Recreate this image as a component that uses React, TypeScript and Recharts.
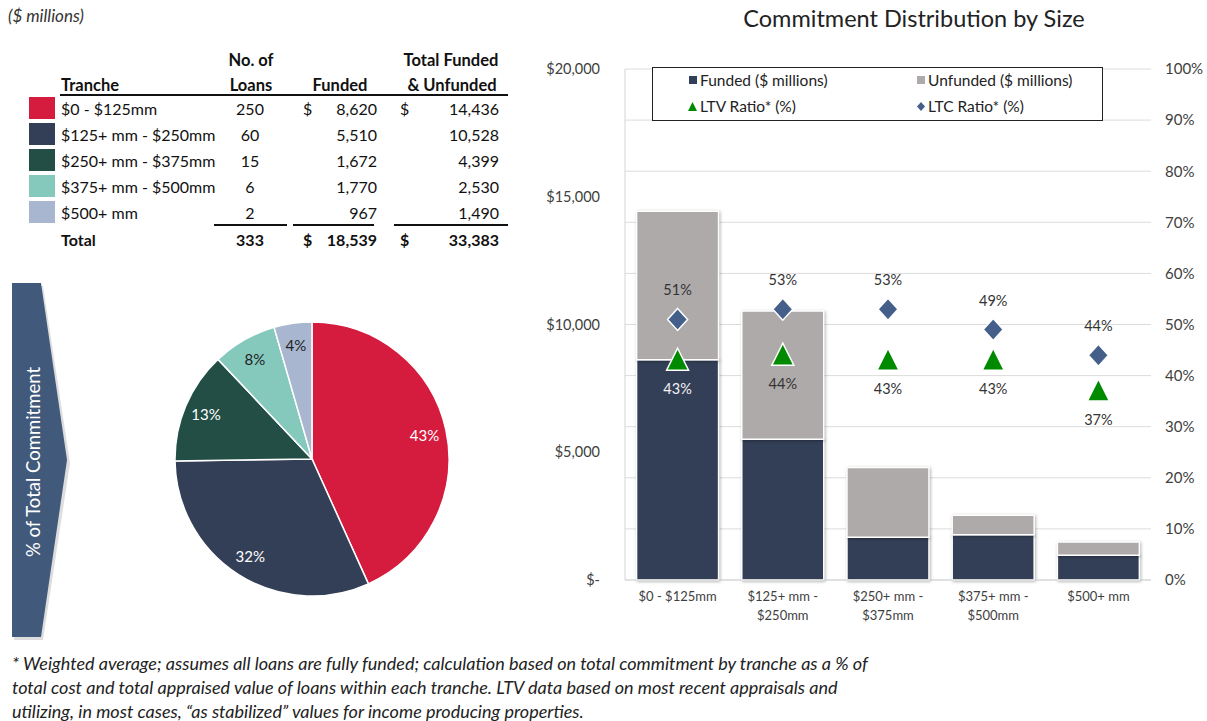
import React from "react";
import {
    ComposedChart,
    Bar,
    Line,
    XAxis,
    YAxis,
    CartesianGrid,
    Legend,
    LabelList,
    PieChart,
    Pie,
    Cell,
} from "recharts";

const FONT = "Lato, 'Open Sans', sans-serif";

// tranche names (table) and the two-line versions used under the bars
const tranches = ["$0 - $125mm", "$125+ mm - $250mm", "$250+ mm - $375mm", "$375+ mm - $500mm", "$500+ mm"];
const axisLabels = ["$0 - $125mm", "$125+ mm -\n$250mm", "$250+ mm -\n$375mm", "$375+ mm -\n$500mm", "$500+ mm"];
const loanCounts = [250, 60, 15, 6, 2];
const fundedAmt = [8620, 5510, 1672, 1770, 967];
const totalAmt = [14436, 10528, 4399, 2530, 1490];
const ltvRatio = [0.43, 0.44, 0.43, 0.43, 0.37];
const ltcRatio = [0.51, 0.53, 0.53, 0.49, 0.44];
const trancheColors = ["#d51b3e", "#333f56", "#234e46", "#85c9bd", "#a8b7cf"];
const pieLabelColors = ["#ffffff", "#ffffff", "#ffffff", "#222222", "#222222"];
const leftTicks = [0, 5000, 10000, 15000, 20000];
const rightTicks = [0, 0.1, 0.2, 0.3, 0.4, 0.5, 0.6, 0.7, 0.8, 0.9, 1];
const footnote = [
    "* Weighted average; assumes all loans are fully funded; calculation based on total commitment by tranche as a % of",
    "total cost and total appraised value of loans within each tranche. LTV data based on most recent appraisals and",
    "utilizing, in most cases, \u201cas stabilized\u201d values for income producing properties.",
];

const FUNDED_COLOR = "#333f56";
const UNFUNDED_COLOR = "#aeaaaa";
const LTV_COLOR = "#008a00";
const LTC_COLOR = "#44608a";

// plot area of the bar chart (chart coordinates), used to pick label colour
const PLOT_TOP = 69;
const PLOT_H = 511;
const LEFT_MAX = 20000;

const chartData = axisLabels.map((name, i) => ({
    name,
    funded: fundedAmt[i],
    unfunded: totalAmt[i] - fundedAmt[i],
    ltv: ltvRatio[i],
    ltc: ltcRatio[i],
}));

const pieData = tranches.map((name, i) => ({ name, value: totalAmt[i] }));

const fmt = (n: number) => n.toLocaleString("en-US");

// absolutely placed text; align sets which edge x refers to
function T({ x, y, children, align = "left", bold, size = 16, italic, color = "#111" }: any) {
    const tx = align === "center" ? "-50%" : align === "right" ? "-100%" : "0";
    return (
        <div
            style={{
                position: "absolute",
                left: x,
                top: y,
                transform: `translate(${tx}, -50%)`,
                whiteSpace: "nowrap",
                fontSize: size,
                fontWeight: bold ? 700 : 400,
                fontStyle: italic ? "italic" : "normal",
                color,
                lineHeight: 1,
            }}
        >
            {children}
        </div>
    );
}

const CategoryTick = ({ x, y, payload }: any) => {
    const lines = String(payload.value).split("\n");
    return (
        <text textAnchor="middle" fontSize={13} fill="#404040" fontFamily={FONT}>
            {lines.map((l, i) => (
                <tspan key={i} x={x} y={y + 21 + i * 19}>
                    {l}
                </tspan>
            ))}
        </text>
    );
};

const Diamond = (props: any) => {
    const { cx, cy, index } = props;
    if (cx == null || cy == null) return <g key={index} />;
    return (
        <path
            key={index}
            d={`M${cx},${cy - 11} L${cx + 10},${cy} L${cx},${cy + 11} L${cx - 10},${cy} Z`}
            fill={LTC_COLOR}
            stroke="#fff"
            strokeWidth={1.5}
        />
    );
};

const Triangle = (props: any) => {
    const { cx, cy, index } = props;
    if (cx == null || cy == null) return <g key={index} />;
    return (
        <path
            key={index}
            d={`M${cx},${cy - 12} L${cx + 11},${cy + 10} L${cx - 11},${cy + 10} Z`}
            fill={LTV_COLOR}
            stroke="#fff"
            strokeWidth={1.5}
        />
    );
};

const pctLabel = (dy: number) => (props: any) => {
    const { x, y, value, index } = props;
    const fundedTop = PLOT_TOP + PLOT_H * (1 - fundedAmt[index] / LEFT_MAX);
    const onDark = y + dy - 5 > fundedTop;
    return (
        <text x={x} y={y + dy} textAnchor="middle" fontSize={14.5} fill={onDark ? "#f2f2f2" : "#333"} fontFamily={FONT}>
            {Math.round(value * 100)}%
        </text>
    );
};

const LegendBox = () => {
    const item = (marker: React.ReactNode, label: string, left: number, top: number) => (
        <div style={{ position: "absolute", left, top, display: "flex", alignItems: "center", fontSize: 15.5, color: "#222" }}>
            <span style={{ width: 11, display: "inline-flex", justifyContent: "center" }}>{marker}</span>
            <span style={{ marginLeft: 2 }}>{label}</span>
        </div>
    );
    const sq = (c: string) => <span style={{ width: 8, height: 8, background: c, display: "inline-block" }} />;
    return (
        <div style={{ position: "relative", width: 451, height: 54, border: "1.5px solid #222", background: "#fff", boxSizing: "border-box", fontFamily: FONT }}>
            {item(sq(FUNDED_COLOR), "Funded ($ millions)", 34, 3)}
            {item(sq(UNFUNDED_COLOR), "Unfunded ($ millions)", 262, 3)}
            {item(
                <svg width={9} height={9}><path d="M4.5,0 L9,9 L0,9 Z" fill={LTV_COLOR} /></svg>,
                "LTV Ratio* (%)", 34, 29)}
            {item(
                <svg width={8} height={9}><path d="M4,0 L8,4.5 L4,9 L0,4.5 Z" fill={LTC_COLOR} /></svg>,
                "LTC Ratio* (%)", 262, 29)}
        </div>
    );
};

const RADIAN = Math.PI / 180;
const pieLabel = (props: any) => {
    const { cx, cy, midAngle, outerRadius, percent, index } = props;
    const r = outerRadius * 0.84;
    const x = cx + r * Math.cos(-midAngle * RADIAN);
    const y = cy + r * Math.sin(-midAngle * RADIAN);
    return (
        <text x={x} y={y} textAnchor="middle" dominantBaseline="central" fontSize={15} fill={pieLabelColors[index]} fontFamily={FONT}>
            {Math.round(percent * 100)}%
        </text>
    );
};

export default function App() {
    const loanTotal = loanCounts.reduce((a, b) => a + b, 0);
    const fundedTotal = fundedAmt.reduce((a, b) => a + b, 0);
    const grandTotal = totalAmt.reduce((a, b) => a + b, 0);
    const rowY = [109, 135, 161, 187, 213];
    const hs = 16.5;

    return (
        <div style={{ position: "absolute", left: 0, top: 0, width: 1207, height: 721, background: "#fff", fontFamily: FONT, overflow: "hidden" }}>
            <style>{`.recharts-bar-rectangle { filter: drop-shadow(1.5px 1.5px 1.5px rgba(0,0,0,0.3)); }`}</style>

            <T x={8} y={15} italic size={17} color="#333">($ millions)</T>

            {/* table */}
            <T x={251} y={60} align="center" bold size={hs}>No. of</T>
            <T x={451} y={60} align="center" bold size={hs}>Total Funded</T>
            <T x={61} y={85} bold size={hs}>Tranche</T>
            <T x={251} y={85} align="center" bold size={hs}>Loans</T>
            <T x={340} y={85} align="center" bold size={hs}>Funded</T>
            <T x={452} y={85} align="center" bold size={hs}>&amp; Unfunded</T>
            <div style={{ position: "absolute", left: 60, top: 94, width: 448, height: 2, background: "#111" }} />
            {tranches.map((t, i) => (
                <React.Fragment key={t}>
                    <div style={{ position: "absolute", left: 29, top: rowY[i] - 12, width: 26, height: 22, background: trancheColors[i] }} />
                    <T x={61} y={rowY[i]}>{t}</T>
                    <T x={250} y={rowY[i]} align="center">{loanCounts[i]}</T>
                    {i === 0 && <T x={303} y={rowY[i]}>$</T>}
                    <T x={377} y={rowY[i]} align="right">{fmt(fundedAmt[i])}</T>
                    {i === 0 && <T x={400} y={rowY[i]}>$</T>}
                    <T x={499} y={rowY[i]} align="right">{fmt(totalAmt[i])}</T>
                </React.Fragment>
            ))}
            <div style={{ position: "absolute", left: 214, top: 224, width: 73, height: 2, background: "#111" }} />
            <div style={{ position: "absolute", left: 293, top: 224, width: 81, height: 2, background: "#111" }} />
            <div style={{ position: "absolute", left: 394, top: 224, width: 114, height: 2, background: "#111" }} />
            <T x={61} y={240} bold>Total</T>
            <T x={250} y={240} align="center" bold>{loanTotal}</T>
            <T x={303} y={240} bold>$</T>
            <T x={377} y={240} align="right" bold>{fmt(fundedTotal)}</T>
            <T x={400} y={240} bold>$</T>
            <T x={499} y={240} align="right" bold>{fmt(grandTotal)}</T>

            {/* banner arrow */}
            <svg style={{ position: "absolute", left: 0, top: 270 }} width={90} height={380}>
                <polygon points="14,16 43,16 70,193 43,370 14,370" fill="#bbb" opacity={0.5} />
                <polygon points="12,13 41,13 67,190 41,367 12,367" fill="#41597a" />
                <text x={0} y={0} transform="translate(33,192) rotate(-90)" textAnchor="middle" dominantBaseline="central" fontSize={18.5} fill="#fff" fontFamily={FONT}>
                    % of Total Commitment
                </text>
            </svg>

            {/* pie */}
            <div style={{ position: "absolute", left: 147, top: 294 }}>
                <PieChart width={320} height={320}>
                    <Pie
                        data={pieData}
                        dataKey="value"
                        cx={160}
                        cy={160}
                        outerRadius={137}
                        startAngle={90}
                        endAngle={-270}
                        stroke="#fff"
                        strokeWidth={1.5}
                        label={pieLabel}
                        labelLine={false}
                        isAnimationActive={false}
                    >
                        {pieData.map((d, i) => (
                            <Cell key={d.name} fill={trancheColors[i]} />
                        ))}
                    </Pie>
                </PieChart>
            </div>

            {/* bar chart */}
            <div style={{ position: "absolute", left: 714, top: 19, width: 400, textAlign: "center", transform: "translateY(-50%)", fontSize: 23.5, color: "#222", lineHeight: 1 }}>
                Commitment Distribution by Size
            </div>
            <div style={{ position: "absolute", left: 540, top: 0 }}>
                <ComposedChart width={667} height={640} data={chartData} margin={{ top: PLOT_TOP, right: 0, bottom: 0, left: 0 }} barCategoryGap="11%">
                    <CartesianGrid yAxisId="right" vertical={false} stroke="#dcdcdc" />
                    <XAxis dataKey="name" height={60} tick={<CategoryTick />} tickLine={false} tickSize={0} tickMargin={0} axisLine={{ stroke: "#d4d4d4" }} interval={0} />
                    <YAxis
                        yAxisId="left"
                        width={85}
                        domain={[0, LEFT_MAX]}
                        ticks={leftTicks}
                        tickFormatter={(v: number) => (v === 0 ? "$-" : "$" + fmt(v))}
                        tick={{ fontSize: 14.5, fill: "#404040", fontFamily: FONT }}
                        tickLine={false}
                        tickSize={0}
                        tickMargin={25}
                        axisLine={{ stroke: "#d4d4d4" }}
                    />
                    <YAxis
                        yAxisId="right"
                        orientation="right"
                        width={56}
                        domain={[0, 1]}
                        ticks={rightTicks}
                        tickFormatter={(v: number) => Math.round(v * 100) + "%"}
                        tick={{ fontSize: 15, fill: "#404040", fontFamily: FONT, textAnchor: "start" }}
                        tickLine={false}
                        tickSize={0}
                        tickMargin={14}
                        axisLine={false}
                    />
                    <Legend
                        layout="vertical"
                        align="center"
                        verticalAlign="middle"
                        content={<LegendBox />}
                        wrapperStyle={{ position: "absolute", left: 112, top: 67, width: 451, height: 54 }}
                    />
                    <Bar yAxisId="left" dataKey="funded" stackId="a" fill={FUNDED_COLOR} stroke="#fff" strokeWidth={1.5} isAnimationActive={false} />
                    <Bar yAxisId="left" dataKey="unfunded" stackId="a" fill={UNFUNDED_COLOR} stroke="#fff" strokeWidth={1.5} isAnimationActive={false} />
                    <Line yAxisId="right" dataKey="ltc" stroke="none" dot={Diamond} activeDot={false} isAnimationActive={false}>
                        <LabelList dataKey="ltc" content={pctLabel(-24)} />
                    </Line>
                    <Line yAxisId="right" dataKey="ltv" stroke="none" dot={Triangle} activeDot={false} isAnimationActive={false}>
                        <LabelList dataKey="ltv" content={pctLabel(34)} />
                    </Line>
                </ComposedChart>
            </div>

            {/* footnote */}
            {footnote.map((line, i) => (
                <T key={i} x={12} y={663 + i * 24} italic size={18} color="#222">{line}</T>
            ))}
        </div>
    );
}
